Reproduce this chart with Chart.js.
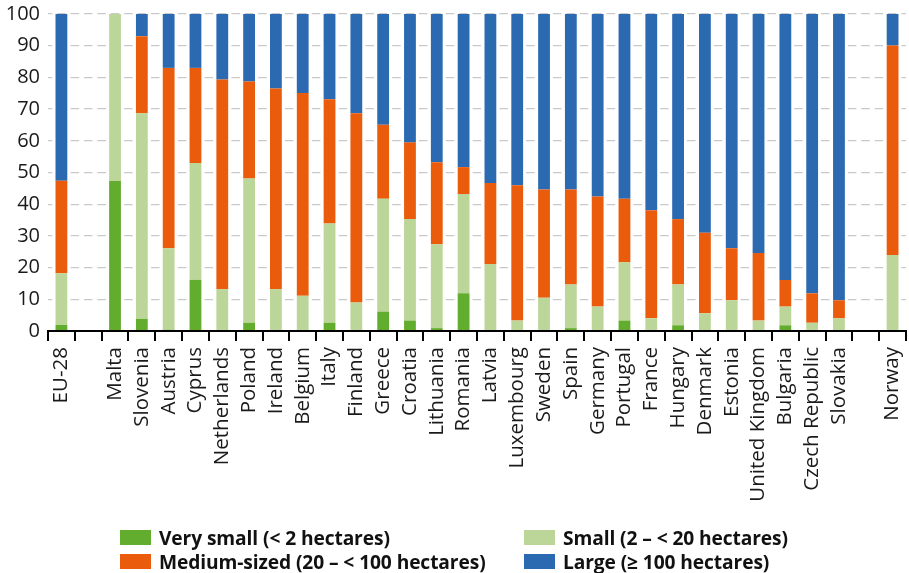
<!DOCTYPE html>
<html>
<head>
<meta charset="utf-8">
<script src="https://cdn.jsdelivr.net/npm/chart.js@4/dist/chart.umd.min.js"></script>
<style>
  html, body { margin: 0; padding: 0; background: #fff; }
  #wrap { position: relative; width: 909px; height: 573px; overflow: hidden; }
  #c { position: absolute; left: 0; top: 0; }
  .leg { position: absolute; display: flex; align-items: center; height: 16px;
         font-family: "Open Sans", sans-serif; font-weight: bold;
         font-size: 19.2px; color: #111; white-space: nowrap; letter-spacing: -0.1px; }
  .leg .box { width: 31px; height: 15px; margin-right: 8px; flex: none; }
</style>
</head>
<body>
<div id="wrap">
  <canvas id="c" width="909" height="573"></canvas>
  <div id="legend"></div>
</div>
<script>
const categories = ['EU-28', '', 'Malta', 'Slovenia', 'Austria', 'Cyprus', 'Netherlands', 'Poland', 'Ireland',
  'Belgium', 'Italy', 'Finland', 'Greece', 'Croatia', 'Lithuania', 'Romania', 'Latvia', 'Luxembourg',
  'Sweden', 'Spain', 'Germany', 'Portugal', 'France', 'Hungary', 'Denmark', 'Estonia', 'United Kingdom',
  'Bulgaria', 'Czech Republic', 'Slovakia', '', 'Norway'];

const verySmall = [1.9, null, 47.3, 3.8, 0.4, 16.1, 0.3, 2.6, 0, 0.1, 2.6, 0, 6.1, 3.3, 0.9, 11.9, 0.3, 0,
  0, 0.9, 0.1, 3.3, 0, 1.8, 0, 0, 0, 1.8, 0, 0, null, 0];
const small = [16.3, null, 52.7, 64.9, 25.7, 36.9, 12.9, 45.5, 13.2, 11.0, 31.3, 9.0, 35.6, 32.0, 26.5, 31.3, 20.8, 3.3,
  10.5, 13.8, 7.6, 18.4, 4.0, 12.9, 5.6, 9.7, 3.3, 5.9, 2.6, 4.0, null, 24.0];
const medium = [29.2, null, 0, 24.3, 56.9, 30.0, 66.1, 30.6, 63.3, 64.0, 39.2, 59.7, 23.4, 24.2, 25.8, 8.5, 25.6, 42.7,
  34.1, 29.9, 34.7, 20.0, 34.1, 20.6, 25.4, 16.4, 21.3, 8.4, 9.3, 5.7, null, 66.1];
const large = [52.6, null, 0, 7.0, 17.0, 17.0, 20.7, 21.3, 23.5, 24.9, 26.9, 31.3, 34.9, 40.5, 46.8, 48.3, 53.3, 54.0,
  55.4, 55.4, 57.6, 58.3, 61.9, 64.7, 69.0, 73.9, 75.4, 83.9, 88.1, 90.3, null, 9.9];

const seriesNames = ['Very small (< 2 hectares)', 'Small (2 – < 20 hectares)',
  'Medium-sized (20 – < 100 hectares)', 'Large (≥ 100 hectares)'];
const yTicks = [0, 10, 20, 30, 40, 50, 60, 70, 80, 90, 100];

const colors = ['#63ad2e', '#bcd699', '#ea5b0c', '#2b6ab1'];
const seriesData = [verySmall, small, medium, large];

const datasets = seriesData.map((d, i) => ({
  label: seriesNames[i],
  data: d,
  backgroundColor: colors[i],
  borderWidth: 0,
  categoryPercentage: 1.0,
  barPercentage: 0.44
}));

new Chart(document.getElementById('c'), {
  type: 'bar',
  data: { labels: categories, datasets },
  options: {
    responsive: false,
    animation: false,
    devicePixelRatio: 1,
    layout: { padding: { top: 14, right: 3, left: 0, bottom: 0 } },
    plugins: { legend: { display: false }, tooltip: { enabled: false } },
    scales: {
      x: {
        stacked: true,
        offset: true,
        grid: {
          display: true, offset: true, drawOnChartArea: false, drawTicks: true,
          tickLength: 10, color: '#000', lineWidth: 2, z: 1
        },
        border: { display: true, color: '#000', width: 2, z: 1 },
        ticks: {
          autoSkip: false, maxRotation: 90, minRotation: 90, padding: 6,
          color: '#1a1a1a', font: { family: '"Open Sans", sans-serif', size: 20.5 }, z: 1
        },
        afterFit: (s) => { s.height = 573 - 331; s.paddingLeft = 0; s.paddingRight = 0; }
      },
      y: {
        stacked: true,
        min: 0, max: 100,
        afterBuildTicks: (s) => { s.ticks = yTicks.map(v => ({ value: v })); },
        grid: {
          drawTicks: false,
          color: (ctx) => (ctx.tick && ctx.tick.value === 0) ? 'rgba(0,0,0,0)' : '#c9c9c9',
          lineWidth: 1.3
        },
        border: { display: false, dash: [8.5, 4.9], dashOffset: 4.2 },
        ticks: { padding: 8, color: '#1a1a1a', font: { family: '"Open Sans", sans-serif', size: 20 } },
        afterFit: (s) => { s.width = 48; s.paddingTop = 0; s.paddingBottom = 0; }
      }
    }
  }
});

// Legend (two columns, two rows)
const legendPos = [
  { left: 120, top: 529 }, { left: 524, top: 529 },
  { left: 120, top: 553 }, { left: 524, top: 553 }
];
const legendEl = document.getElementById('legend');
seriesNames.forEach((name, i) => {
  const item = document.createElement('div');
  item.className = 'leg';
  item.style.left = legendPos[i].left + 'px';
  item.style.top = legendPos[i].top + 'px';
  const box = document.createElement('span');
  box.className = 'box';
  box.style.background = colors[i];
  const txt = document.createElement('span');
  txt.textContent = name;
  item.appendChild(box);
  item.appendChild(txt);
  legendEl.appendChild(item);
});
</script>
</body>
</html>
